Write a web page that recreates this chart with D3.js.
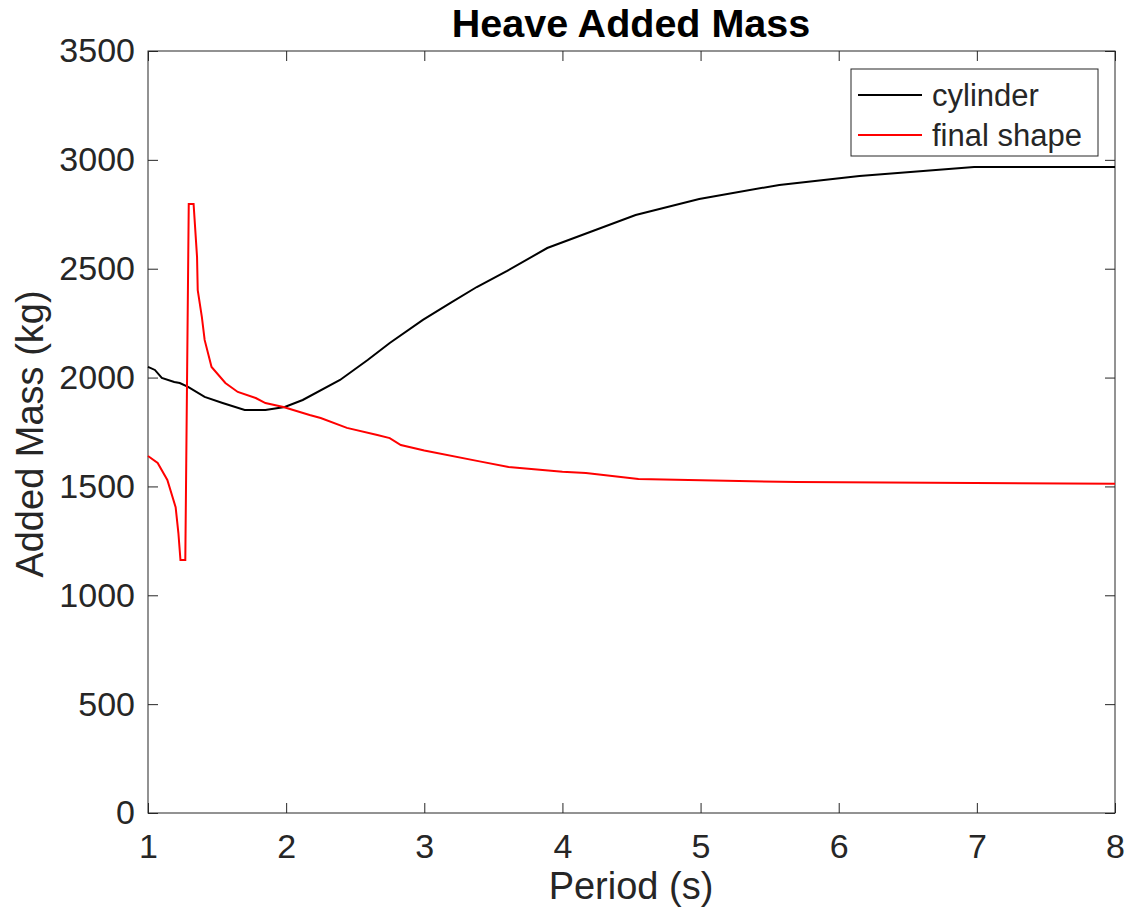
<!DOCTYPE html>
<html><head><meta charset="utf-8">
<script src="https://cdn.jsdelivr.net/npm/d3@7"></script>
<style>body{margin:0;background:#fff;} text{font-family:"Liberation Sans",Arial,sans-serif;fill:#262626;}</style>
</head><body><svg id="c" width="1126" height="917"></svg>
<script>
const title = "Heave Added Mass";
const xLabel = "Period (s)";
const yLabel = "Added Mass (kg)";
const seriesNames = ["cylinder", "final shape"];
const xTicks = [1,2,3,4,5,6,7,8];
const yTicks = [0,500,1000,1500,2000,2500,3000,3500];

const cylPeriod = [1.0,1.05,1.10,1.19,1.23,1.29,1.41,1.54,1.70,1.85,1.99,2.12,2.39,2.59,2.75,2.99,3.19,3.38,3.60,3.89,4.53,4.99,5.57,6.15,6.98,8.0];
const cylMass   = [2049,2035,1998,1980,1975,1957,1911,1883,1851,1851,1865,1897,1989,2081,2159,2265,2343,2416,2490,2595,2747,2820,2885,2926,2967,2967];

const finPeriod = [1.0,1.07,1.14,1.20,1.22,1.235,1.27,1.295,1.33,1.355,1.36,1.39,1.41,1.46,1.56,1.65,1.78,1.85,1.98,2.17,2.25,2.44,2.66,2.75,2.83,3.0,3.4,3.61,4.0,4.17,4.55,5.7,8.0];
const finMass   = [1640,1608,1530,1405,1286,1162,1162,2797,2797,2554,2402,2278,2173,2049,1975,1934,1906,1883,1865,1828,1814,1769,1736,1722,1690,1665,1615,1589,1567,1562,1534,1520,1512];

const colors = ["#000000", "#ff0000"];

const svg = d3.select("#c");
const L=148, R=1115, T=51, B=813;
const x = d3.scaleLinear().domain([1,8]).range([L,R]);
const y = d3.scaleLinear().domain([0,3500]).range([B,T]);
const axc = "#262626";

svg.append("rect").attr("x",L).attr("y",T).attr("width",R-L).attr("height",B-T)
  .attr("fill","none").attr("stroke",axc).attr("stroke-width",1);

const fmt = d3.format("d");
const gx = svg.append("g").attr("transform",`translate(0,${B})`)
  .call(d3.axisBottom(x).tickValues(xTicks).tickFormat(fmt).tickSizeInner(-10).tickSizeOuter(0).tickPadding(22));
const gy = svg.append("g").attr("transform",`translate(${L},0)`)
  .call(d3.axisLeft(y).tickValues(yTicks).tickFormat(fmt).tickSizeInner(-10).tickSizeOuter(0).tickPadding(13));
const gxt = svg.append("g").attr("transform",`translate(0,${T})`)
  .call(d3.axisTop(x).tickValues(xTicks).tickFormat("").tickSizeInner(-10).tickSizeOuter(0));
const gyr = svg.append("g").attr("transform",`translate(${R},0)`)
  .call(d3.axisRight(y).tickValues(yTicks).tickFormat("").tickSizeInner(-10).tickSizeOuter(0));
[gx,gy,gxt,gyr].forEach(g=>{
  g.select(".domain").remove();
  g.selectAll("line").attr("stroke",axc);
  g.selectAll("text").attr("font-size",34).attr("fill",axc).style("font-family","Liberation Sans, Arial, sans-serif");
});
gx.selectAll("text").attr("y",45).attr("dy",0);

const line = d3.line().x(d=>x(d[0])).y(d=>y(d[1]));
const cyl = cylPeriod.map((p,i)=>[p,cylMass[i]]);
const fin = finPeriod.map((p,i)=>[p,finMass[i]]);
svg.append("path").datum(cyl).attr("d",line).attr("fill","none").attr("stroke",colors[0]).attr("stroke-width",2);
svg.append("path").datum(fin).attr("d",line).attr("fill","none").attr("stroke",colors[1]).attr("stroke-width",2);

svg.append("text").attr("x",631).attr("y",37).attr("text-anchor","middle")
  .attr("font-size",39.5).attr("font-weight","bold").style("fill","#000").text(title);
svg.append("text").attr("x",631).attr("y",899).attr("text-anchor","middle")
  .attr("font-size",38).text(xLabel);
svg.append("text").attr("transform",`translate(43,434) rotate(-90)`).attr("text-anchor","middle")
  .attr("font-size",38).text(yLabel);

const lg = svg.append("g");
lg.append("rect").attr("x",851).attr("y",69).attr("width",247).attr("height",87)
  .attr("fill","#fff").attr("stroke",axc).attr("stroke-width",1);
seriesNames.forEach((n,i)=>{
  const yy = 95 + i*40;
  lg.append("line").attr("x1",858).attr("x2",922).attr("y1",yy).attr("y2",yy)
    .attr("stroke",colors[i]).attr("stroke-width",2);
  lg.append("text").attr("x",932).attr("y",yy+11).attr("font-size",31).text(n);
});
</script></body></html>
